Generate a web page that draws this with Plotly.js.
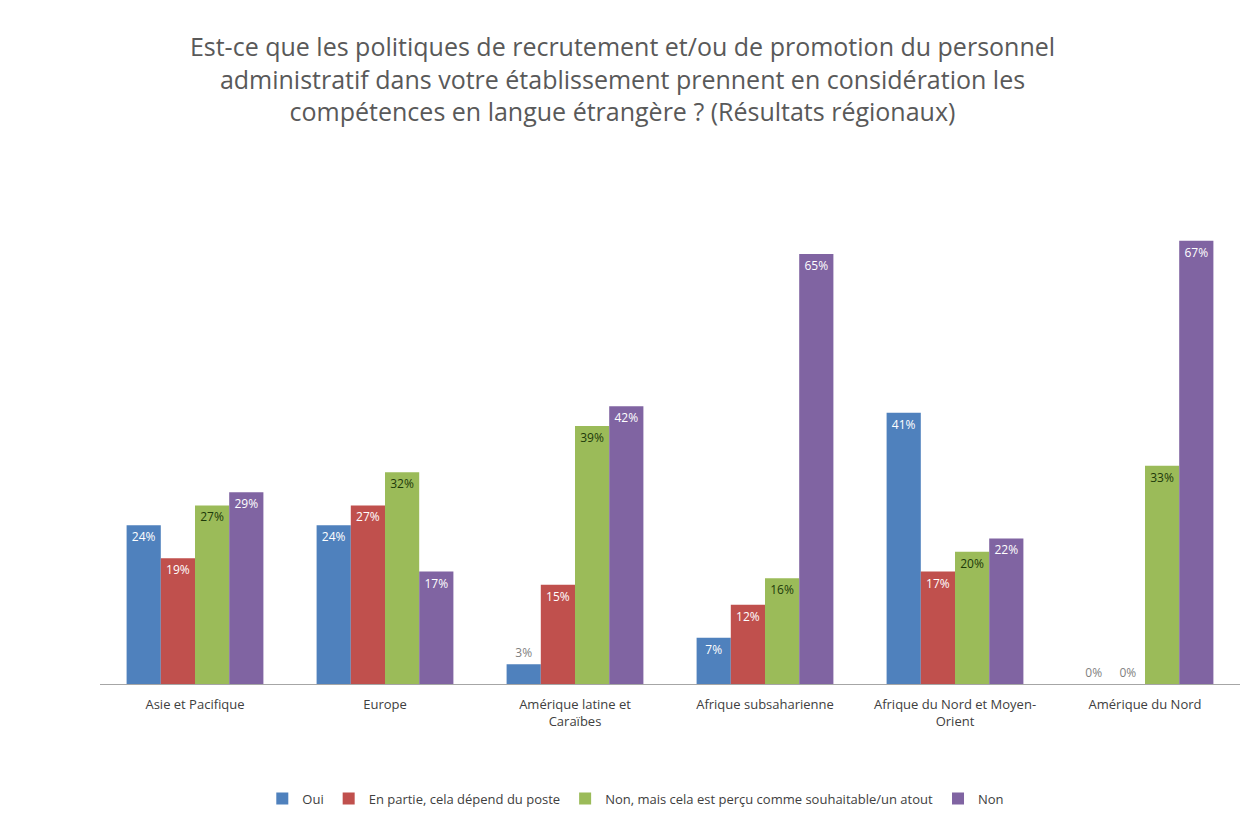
<!DOCTYPE html>
<html><head><meta charset="utf-8">
<script src="https://cdn.plot.ly/plotly-3.0.1.min.js"></script>
<style>body{margin:0;background:#fff}#c{width:1245px;height:817px}</style>
</head><body><div id="c"></div>
<script>
const categories = ["Asie et Pacifique","Europe","Amérique latine et<br>Caraïbes","Afrique subsaharienne","Afrique du Nord et Moyen-<br>Orient","Amérique du Nord"];
const seriesNames = ["Oui","En partie, cela dépend du poste","Non, mais cela est perçu comme souhaitable/un atout","Non"];
const oui = [24,24,3,7,41,0];
const enPartie = [19,27,15,12,17,0];
const nonMais = [27,32,39,16,20,33];
const non = [29,17,42,65,22,67];

const colors = ["#4F81BD","#C0504D","#9BBB59","#8064A2"];
const insideColors = ["#ffffff","#ffffff","#1e3a0a","#ffffff"];
const all = [oui,enPartie,nonMais,non];

const traces = all.map((vals,i)=>({
  type:'bar', name:seriesNames[i], x:categories, y:vals,
  marker:{color:colors[i]},
  text:vals.map(v=>v+'%'),
  textposition:vals.map(v=>v<5?'outside':'inside'),
  insidetextanchor:'end',
  textangle:0,
  constraintext:'none',
  cliponaxis:false,
  insidetextfont:{color:insideColors[i],size:12,family:'Open Sans, sans-serif'},
  outsidetextfont:{color:'#7f7f7f',size:12,family:'Open Sans, sans-serif'},
  hoverinfo:'none'
}));

const layout = {
  width:1245,height:817,
  paper_bgcolor:'#ffffff',plot_bgcolor:'#ffffff',
  margin:{l:100,r:5,t:221,b:133,autoexpand:false},
  barmode:'group',bargap:0.28,bargroupgap:0,
  title:{text:"Est-ce que les politiques de recrutement et/ou de promotion du personnel<br>administratif dans votre établissement prennent en considération les<br>compétences en langue étrangère ? (Résultats régionaux)",
    font:{family:'Open Sans, sans-serif',size:25,color:'#595959'},x:0.5,xanchor:'center',y:0.931,yanchor:'top'},
  xaxis:{showline:true,linecolor:'#a6a6a6',linewidth:1,ticks:'',ticklabelstandoff:8,tickfont:{family:'Open Sans, sans-serif',size:13,color:'#404040'},fixedrange:true},
  yaxis:{range:[0,70],visible:false,showgrid:false,zeroline:false,fixedrange:true},
  legend:{orientation:'h',x:0.47,xanchor:'center',y:-0.215,yanchor:'top',font:{family:'Open Sans, sans-serif',size:13,color:'#404040'},itemwidth:30,traceorder:'normal'},
  showlegend:true
};
Plotly.newPlot('c',traces,layout,{displayModeBar:false,staticPlot:true});
</script></body></html>
